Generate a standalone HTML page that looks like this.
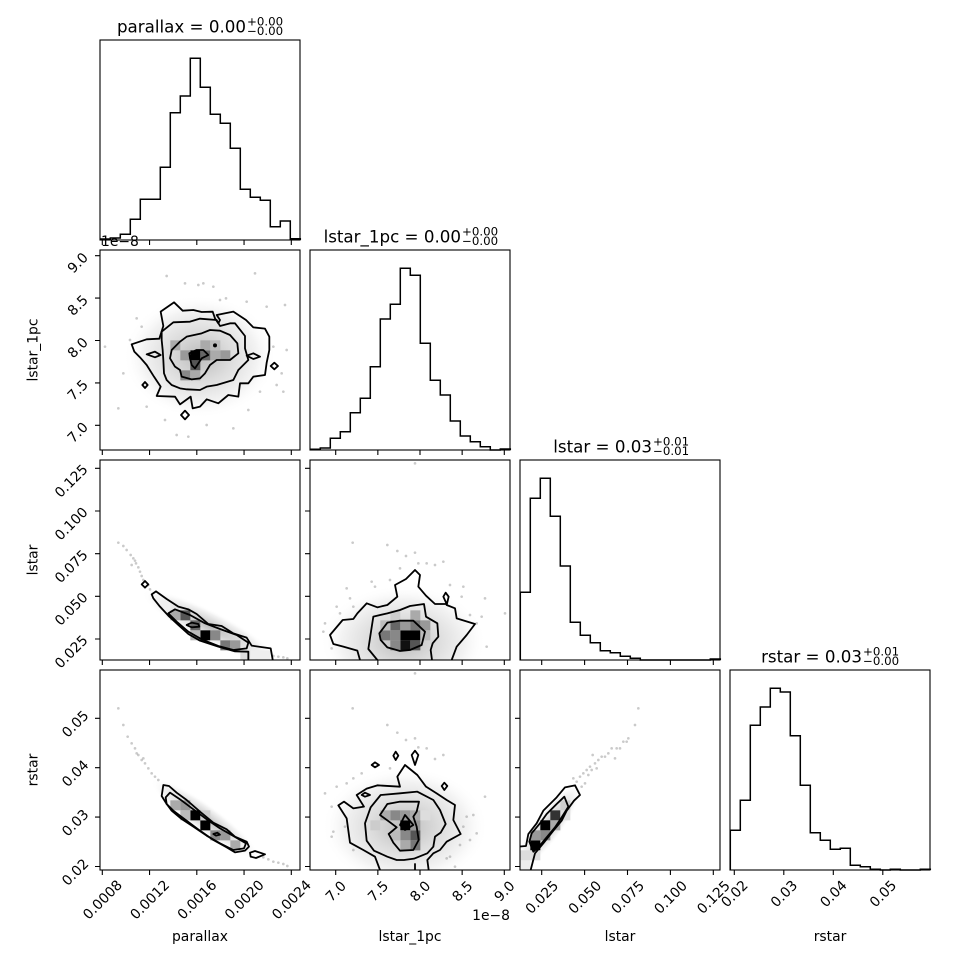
<!DOCTYPE html>
<html><head><meta charset="utf-8"><style>
html,body{margin:0;padding:0;background:#fff;}
svg{display:block;}
text{font-family:"DejaVu Sans","Liberation Sans",sans-serif;fill:#000;}
.ct{fill:none;stroke:#000;stroke-width:1.8;stroke-linejoin:round;}
.dt{fill:#8a8a8a;fill-opacity:0.45;}
</style></head><body>
<svg width="970" height="970" viewBox="0 0 970 970" xmlns="http://www.w3.org/2000/svg">
<defs>
<radialGradient id="rg"><stop offset="0" stop-color="#bcbcbc"/><stop offset="0.4" stop-color="#dcdcdc"/><stop offset="0.75" stop-color="#f3f3f3"/><stop offset="1" stop-color="#ffffff" stop-opacity="0"/></radialGradient>
<clipPath id="c10"><rect x="100" y="250" width="200" height="200"/></clipPath>
<clipPath id="c20"><rect x="100" y="460" width="200" height="200"/></clipPath>
<clipPath id="c21"><rect x="310" y="460" width="200" height="200"/></clipPath>
<clipPath id="c30"><rect x="100" y="670" width="200" height="200"/></clipPath>
<clipPath id="c31"><rect x="310" y="670" width="200" height="200"/></clipPath>
<clipPath id="c32"><rect x="520" y="670" width="200" height="200"/></clipPath>
</defs>
<rect width="970" height="970" fill="#fff"/>

<!-- Panel (1,0) parallax vs lstar_1pc -->
<g clip-path="url(#c10)"><g transform="translate(0,240) scale(0.333333)">
<ellipse cx="600" cy="350" rx="230" ry="185" fill="url(#rg)"/>
<rect x="571" y="331" width="30" height="30" fill="#000"/>
<rect x="571" y="361" width="30" height="30" fill="#555"/>
<rect x="601" y="331" width="30" height="30" fill="#666"/>
<rect x="541" y="391" width="30" height="30" fill="#888"/>
<rect x="541" y="331" width="30" height="30" fill="#999"/>
<rect x="631" y="331" width="30" height="30" fill="#aaa"/>
<rect x="661" y="331" width="30" height="30" fill="#999"/>
<rect x="601" y="301" width="30" height="30" fill="#aaa"/>
<rect x="511" y="301" width="30" height="30" fill="#aaa"/>
<rect x="571" y="391" width="30" height="30" fill="#aaa"/>
<rect x="631" y="301" width="30" height="30" fill="#bbb"/>
<g class="dt"><circle cx="500" cy="108" r="4"/><circle cx="555" cy="130" r="4"/><circle cx="595" cy="135" r="4"/><circle cx="640" cy="140" r="4"/><circle cx="765" cy="100" r="4"/><circle cx="678" cy="175" r="4"/><circle cx="740" cy="185" r="4"/><circle cx="800" cy="200" r="4"/><circle cx="855" cy="195" r="4"/><circle cx="410" cy="235" r="4"/><circle cx="860" cy="330" r="4"/><circle cx="845" cy="400" r="4"/><circle cx="850" cy="455" r="4"/><circle cx="830" cy="435" r="4"/><circle cx="355" cy="505" r="4"/><circle cx="370" cy="400" r="4"/><circle cx="495" cy="540" r="4"/><circle cx="530" cy="585" r="4"/><circle cx="565" cy="590" r="4"/><circle cx="620" cy="555" r="4"/><circle cx="700" cy="565" r="4"/><circle cx="745" cy="510" r="4"/><circle cx="425" cy="260" r="4"/><circle cx="440" cy="500" r="4"/><circle cx="780" cy="455" r="4"/><circle cx="820" cy="320" r="4"/><circle cx="315" cy="320" r="4"/><circle cx="610" cy="130" r="4"/><circle cx="660" cy="180" r="4"/><circle cx="390" cy="300" r="4"/></g>
<polygon class="ct" vector-effect="non-scaling-stroke" points="395,313 440,298 478,296 490,258 482,215 522,187 548,212 580,210 605,216 638,215 645,235 655,250 660,240 650,225 700,215 738,240 760,262 795,266 808,290 808,330 800,368 795,405 760,410 745,430 720,430 715,470 685,465 655,490 620,478 600,500 578,505 572,470 540,493 525,470 470,468 482,440 462,410 440,375 420,352 403,335"/>
<polygon class="ct" vector-effect="non-scaling-stroke" points="485,275 520,247 570,245 600,236 650,240 660,258 690,250 705,250 735,288 735,325 745,360 715,390 700,420 650,435 620,440 600,450 560,448 540,445 515,435 500,420 492,400 490,360 488,330 485,300"/>
<polygon class="ct" vector-effect="non-scaling-stroke" points="510,355 515,330 540,305 560,290 605,280 630,270 660,272 690,285 712,310 715,340 690,360 650,360 630,375 615,400 600,415 575,418 545,410 540,390 525,380"/>
<polygon class="ct" vector-effect="non-scaling-stroke" points="568,340 590,330 610,330 625,345 605,355 585,385 575,375 570,355"/>
<polygon class="ct" vector-effect="non-scaling-stroke" points="427,435 435,426 443,435 435,444"/>
<polygon class="ct" vector-effect="non-scaling-stroke" points="543,525 555,512 567,525 555,538"/>
<polygon class="ct" vector-effect="non-scaling-stroke" points="812,378 823,368 834,378 823,388"/>
<polygon class="ct" vector-effect="non-scaling-stroke" points="740,347 760,340 780,350 760,357"/>
<polygon class="ct" vector-effect="non-scaling-stroke" points="440,343 465,335 482,345 465,352"/>
<circle cx="645" cy="316" r="6" fill="#000"/>
</g></g>

<!-- Panel (2,0) parallax vs lstar -->
<g clip-path="url(#c20)"><g transform="translate(0,450) scale(0.333333)">
<ellipse cx="630" cy="530" rx="230" ry="48" transform="rotate(27 630 530)" fill="url(#rg)"/>
<rect x="601" y="541" width="30" height="30" fill="#000"/>
<rect x="571" y="511" width="30" height="30" fill="#666"/>
<rect x="541" y="481" width="30" height="30" fill="#555"/>
<rect x="511" y="481" width="30" height="30" fill="#aaa"/>
<rect x="631" y="541" width="30" height="30" fill="#888"/>
<rect x="661" y="571" width="30" height="30" fill="#777"/>
<rect x="691" y="571" width="30" height="30" fill="#999"/>
<rect x="481" y="451" width="30" height="30" fill="#eee"/>
<rect x="721" y="601" width="30" height="30" fill="#ddd"/>
<rect x="751" y="601" width="60" height="30" fill="#eee"/>
<rect x="571" y="541" width="30" height="30" fill="#bbb"/>
<g class="dt"><circle cx="355" cy="278" r="4"/><circle cx="370" cy="288" r="4"/><circle cx="380" cy="300" r="4"/><circle cx="392" cy="315" r="4"/><circle cx="400" cy="325" r="4"/><circle cx="408" cy="340" r="4"/><circle cx="415" cy="352" r="4"/><circle cx="420" cy="365" r="4"/><circle cx="425" cy="378" r="4"/><circle cx="430" cy="390" r="4"/><circle cx="445" cy="405" r="4"/><circle cx="450" cy="418" r="4"/><circle cx="820" cy="618" r="4"/><circle cx="835" cy="620" r="4"/><circle cx="850" cy="622" r="4"/><circle cx="862" cy="625" r="4"/><circle cx="405" cy="332" r="4"/><circle cx="395" cy="345" r="4"/></g>
<polyline class="ct" vector-effect="non-scaling-stroke" points="745,640 745,605 705,604 655,590 600,572 565,552 535,525 505,497 480,470 460,445 455,433 468,424 500,447 535,470 565,478 590,492 625,522 665,528 700,550 740,563 755,587 812,595 820,640"/>
<polygon class="ct" vector-effect="non-scaling-stroke" points="505,490 525,478 570,495 615,520 660,537 710,555 745,578 740,595 700,600 655,588 605,568 565,545 530,515"/>
<polygon class="ct" vector-effect="non-scaling-stroke" points="560,525 575,518 595,522 598,530 575,532"/>
<polygon class="ct" vector-effect="non-scaling-stroke" points="425,403 435,393 445,403 435,413"/>
</g></g>

<!-- Panel (3,0) parallax vs rstar -->
<g clip-path="url(#c30)"><g transform="translate(0,660) scale(0.333333)">
<ellipse cx="615" cy="475" rx="200" ry="42" transform="rotate(36 615 475)" fill="url(#rg)"/>
<rect x="571" y="451" width="30" height="30" fill="#000"/>
<rect x="601" y="481" width="30" height="30" fill="#000"/>
<rect x="511" y="421" width="30" height="30" fill="#aaa"/>
<rect x="541" y="421" width="30" height="30" fill="#999"/>
<rect x="541" y="451" width="30" height="30" fill="#bbb"/>
<rect x="631" y="511" width="30" height="30" fill="#888"/>
<rect x="661" y="511" width="30" height="30" fill="#999"/>
<rect x="691" y="541" width="30" height="30" fill="#aaa"/>
<rect x="601" y="451" width="30" height="30" fill="#ccc"/>
<g class="dt"><circle cx="355" cy="145" r="4"/><circle cx="370" cy="195" r="4"/><circle cx="383" cy="230" r="4"/><circle cx="395" cy="250" r="4"/><circle cx="405" cy="265" r="4"/><circle cx="415" cy="285" r="4"/><circle cx="425" cy="300" r="4"/><circle cx="435" cy="310" r="4"/><circle cx="445" cy="325" r="4"/><circle cx="455" cy="340" r="4"/><circle cx="465" cy="350" r="4"/><circle cx="475" cy="360" r="4"/><circle cx="790" cy="592" r="4"/><circle cx="805" cy="598" r="4"/><circle cx="820" cy="605" r="4"/><circle cx="835" cy="608" r="4"/><circle cx="850" cy="612" r="4"/><circle cx="862" cy="618" r="4"/><circle cx="410" cy="280" r="4"/><circle cx="430" cy="295" r="4"/></g>
<polygon class="ct" vector-effect="non-scaling-stroke" points="485,408 490,375 507,378 530,398 560,420 600,455 640,488 680,508 705,530 740,545 747,560 735,572 705,577 680,562 640,540 600,512 560,482 520,452 500,432"/>
<polygon class="ct" vector-effect="non-scaling-stroke" points="497,412 510,398 540,418 580,448 620,478 660,505 700,528 738,550 732,565 700,570 660,550 620,527 580,500 545,477 515,452 500,432"/>
<polygon class="ct" vector-effect="non-scaling-stroke" points="750,578 765,573 795,583 768,594 752,590"/>
<polygon class="ct" vector-effect="non-scaling-stroke" points="640,522 652,518 660,524 648,527"/>
</g></g>

<!-- Panel (2,1) lstar_1pc vs lstar -->
<g clip-path="url(#c21)"><g transform="translate(300,450) scale(0.333333)">
<ellipse cx="310" cy="575" rx="250" ry="170" fill="url(#rg)"/>
<rect x="301" y="541" width="60" height="30" fill="#000"/>
<rect x="301" y="571" width="30" height="30" fill="#111"/>
<rect x="331" y="571" width="30" height="30" fill="#555"/>
<rect x="271" y="511" width="30" height="30" fill="#666"/>
<rect x="241" y="541" width="30" height="30" fill="#777"/>
<rect x="271" y="541" width="30" height="30" fill="#888"/>
<rect x="271" y="571" width="30" height="30" fill="#888"/>
<rect x="331" y="481" width="30" height="30" fill="#aaa"/>
<rect x="361" y="511" width="30" height="30" fill="#999"/>
<rect x="241" y="511" width="30" height="30" fill="#bbb"/>
<rect x="361" y="541" width="30" height="30" fill="#bbb"/>
<rect x="271" y="481" width="30" height="30" fill="#ccc"/>
<rect x="301" y="511" width="30" height="30" fill="#999"/>
<rect x="331" y="511" width="30" height="30" fill="#777"/>
<g class="dt"><circle cx="158" cy="278" r="4"/><circle cx="262" cy="285" r="4"/><circle cx="292" cy="303" r="4"/><circle cx="318" cy="318" r="4"/><circle cx="345" cy="308" r="4"/><circle cx="355" cy="340" r="4"/><circle cx="380" cy="340" r="4"/><circle cx="430" cy="335" r="4"/><circle cx="405" cy="345" r="4"/><circle cx="300" cy="355" r="4"/><circle cx="270" cy="390" r="4"/><circle cx="215" cy="395" r="4"/><circle cx="225" cy="410" r="4"/><circle cx="150" cy="445" r="4"/><circle cx="140" cy="415" r="4"/><circle cx="160" cy="470" r="4"/><circle cx="110" cy="470" r="4"/><circle cx="120" cy="490" r="4"/><circle cx="75" cy="520" r="4"/><circle cx="70" cy="545" r="4"/><circle cx="95" cy="595" r="4"/><circle cx="555" cy="445" r="4"/><circle cx="545" cy="500" r="4"/><circle cx="510" cy="495" r="4"/><circle cx="490" cy="410" r="4"/><circle cx="450" cy="405" r="4"/><circle cx="485" cy="440" r="4"/><circle cx="530" cy="520" r="4"/><circle cx="560" cy="590" r="4"/><circle cx="615" cy="490" r="4"/><circle cx="345" cy="40" r="4"/></g>
<polyline class="ct" vector-effect="non-scaling-stroke" points="180,640 180,630 172,602 130,590 100,582 90,555 128,510 160,507 172,490 200,460 232,472 262,465 292,440 285,405 318,387 345,360 360,375 355,410 378,437 405,462 440,462 430,440 437,428 446,440 440,465 465,475 470,505 525,522 500,555 470,590 455,630 455,640"/>
<polyline class="ct" vector-effect="non-scaling-stroke" points="232,640 232,630 205,597 213,545 220,500 262,490 300,480 330,468 372,462 378,500 412,520 415,560 398,580 392,600 396,630 396,640"/>
<polygon class="ct" vector-effect="non-scaling-stroke" points="238,550 262,518 300,512 340,512 375,545 365,585 330,600 300,603 262,592 242,570"/>
</g></g>

<!-- Panel (3,1) lstar_1pc vs rstar -->
<g clip-path="url(#c31)"><g transform="translate(300,660) scale(0.333333)">
<ellipse cx="315" cy="500" rx="250" ry="180" fill="url(#rg)"/>
<rect x="301" y="481" width="30" height="30" fill="#000"/>
<rect x="331" y="511" width="30" height="30" fill="#555"/>
<rect x="331" y="541" width="30" height="30" fill="#777"/>
<rect x="301" y="511" width="30" height="30" fill="#888"/>
<rect x="271" y="451" width="30" height="30" fill="#888"/>
<rect x="241" y="451" width="30" height="30" fill="#aaa"/>
<rect x="301" y="451" width="30" height="30" fill="#999"/>
<rect x="331" y="451" width="30" height="30" fill="#aaa"/>
<rect x="211" y="481" width="30" height="30" fill="#ccc"/>
<rect x="361" y="451" width="30" height="30" fill="#ddd"/>
<rect x="271" y="511" width="30" height="30" fill="#bbb"/>
<rect x="301" y="541" width="30" height="30" fill="#aaa"/>
<rect x="331" y="481" width="30" height="30" fill="#999"/>
<g class="dt"><circle cx="158" cy="145" r="4"/><circle cx="262" cy="195" r="4"/><circle cx="292" cy="218" r="4"/><circle cx="318" cy="240" r="4"/><circle cx="345" cy="235" r="4"/><circle cx="355" cy="262" r="4"/><circle cx="380" cy="265" r="4"/><circle cx="430" cy="285" r="4"/><circle cx="405" cy="297" r="4"/><circle cx="270" cy="325" r="4"/><circle cx="185" cy="340" r="4"/><circle cx="160" cy="355" r="4"/><circle cx="140" cy="370" r="4"/><circle cx="110" cy="380" r="4"/><circle cx="75" cy="400" r="4"/><circle cx="95" cy="440" r="4"/><circle cx="100" cy="515" r="4"/><circle cx="95" cy="530" r="4"/><circle cx="135" cy="500" r="4"/><circle cx="160" cy="570" r="4"/><circle cx="555" cy="410" r="4"/><circle cx="520" cy="465" r="4"/><circle cx="500" cy="470" r="4"/><circle cx="490" cy="500" r="4"/><circle cx="480" cy="555" r="4"/><circle cx="450" cy="590" r="4"/><circle cx="465" cy="620" r="4"/><circle cx="510" cy="540" r="4"/><circle cx="530" cy="520" r="4"/><circle cx="440" cy="595" r="4"/><circle cx="345" cy="40" r="4"/></g>
<polyline class="ct" vector-effect="non-scaling-stroke" points="240,640 240,630 225,590 190,570 150,548 140,475 115,436 132,425 160,445 192,440 170,405 200,386 232,376 300,380 292,350 315,315 352,345 378,380 410,400 440,420 465,435 460,480 482,522 440,545 420,570 400,580 382,600 386,630 386,640"/>
<polyline class="ct" vector-effect="non-scaling-stroke" points="345,610 345,640"/>
<polygon class="ct" vector-effect="non-scaling-stroke" points="290,600 262,590 222,572 200,542 195,490 212,442 242,405 300,400 352,395 400,420 420,450 437,492 422,518 405,530 400,560 382,580 342,596 312,600"/>
<polygon class="ct" vector-effect="non-scaling-stroke" points="240,465 262,432 300,425 357,425 350,455 340,470 350,500 356,540 340,570 300,572 280,548 266,522 290,502 270,487"/>
<polygon class="ct" vector-effect="non-scaling-stroke" points="300,495 315,465 340,495 315,510"/>
<polygon class="ct" vector-effect="non-scaling-stroke" points="215,315 225,307 237,315 225,322"/>
<polygon class="ct" vector-effect="non-scaling-stroke" points="280,287 287,275 295,287 287,300"/>
<polygon class="ct" vector-effect="non-scaling-stroke" points="335,285 345,272 355,285 345,315"/>
<polygon class="ct" vector-effect="non-scaling-stroke" points="425,378 433,368 442,378 433,390"/>
<polygon class="ct" vector-effect="non-scaling-stroke" points="185,405 195,398 210,405 195,410"/>
</g></g>

<!-- Panel (3,2) lstar vs rstar -->
<g clip-path="url(#c32)"><g transform="translate(510,660) scale(0.333333)">
<ellipse cx="115" cy="500" rx="160" ry="42" transform="rotate(-54 115 500)" fill="url(#rg)"/>
<rect x="61" y="541" width="30" height="30" fill="#000"/>
<rect x="91" y="481" width="30" height="30" fill="#000"/>
<rect x="121" y="451" width="30" height="30" fill="#333"/>
<rect x="61" y="511" width="30" height="30" fill="#999"/>
<rect x="91" y="511" width="30" height="30" fill="#888"/>
<rect x="121" y="481" width="30" height="30" fill="#aaa"/>
<rect x="151" y="421" width="30" height="30" fill="#ccc"/>
<rect x="31" y="571" width="30" height="30" fill="#ddd"/>
<rect x="31" y="601" width="30" height="30" fill="#eee"/>
<rect x="151" y="451" width="30" height="30" fill="#ddd"/>
<rect x="61" y="571" width="30" height="30" fill="#ddd"/>
<g class="dt"><circle cx="385" cy="145" r="4"/><circle cx="375" cy="195" r="4"/><circle cx="355" cy="235" r="4"/><circle cx="340" cy="245" r="4"/><circle cx="320" cy="265" r="4"/><circle cx="305" cy="265" r="4"/><circle cx="295" cy="280" r="4"/><circle cx="285" cy="290" r="4"/><circle cx="265" cy="300" r="4"/><circle cx="255" cy="310" r="4"/><circle cx="240" cy="320" r="4"/><circle cx="230" cy="330" r="4"/><circle cx="220" cy="340" r="4"/><circle cx="210" cy="350" r="4"/><circle cx="200" cy="365" r="4"/><circle cx="225" cy="370" r="4"/><circle cx="245" cy="330" r="4"/><circle cx="260" cy="325" r="4"/><circle cx="275" cy="290" r="4"/><circle cx="315" cy="295" r="4"/><circle cx="330" cy="265" r="4"/><circle cx="350" cy="245" r="4"/><circle cx="215" cy="380" r="4"/><circle cx="190" cy="355" r="4"/><circle cx="248" cy="285" r="4"/><circle cx="235" cy="345" r="4"/></g>
<polyline class="ct" vector-effect="non-scaling-stroke" points="25,560 48,558 55,522 80,490 100,452 140,412 165,382 195,376 210,405 192,422 170,452 155,482 130,512 100,550 75,580 62,630 62,640"/>
<polygon class="ct" vector-effect="non-scaling-stroke" points="58,545 65,520 90,490 110,462 140,432 163,410 175,440 155,472 135,502 110,532 85,562 70,575"/>
</g></g>

<!-- Histograms -->
<g fill="none" stroke="#000" stroke-width="1.5">
<path d="M100.3,240 V239 H110.3 V238 H120.3 V234.3 H130.3 V219.3 H140.3 V199.3 H160.3 V167.3 H170.3 V112.7 H180.3 V96 H190.3 V58.3 H200.3 V87.3 H210.3 V114.3 H220.3 V123.3 H230.3 V148.3 H240.3 V189.3 H250.3 V197.3 H260.3 V200.3 H270.3 V226.7 H280.3 V221 H290.3 V238.7 H300.3 V240"/>
<path d="M310.3,450 V449.3 H320.3 V448 H330.3 V438.3 H340.3 V431.7 H350.3 V412.7 H360.3 V398.3 H370.3 V366.7 H380.3 V319 H390.3 V304.3 H400.3 V268.3 H410.3 V275.3 H420.3 V343.3 H430.3 V380.3 H440.3 V395 H450.3 V421 H460.3 V436 H470.3 V441.7 H480.3 V446.7 H490.3 V450 H500.3 V449 H510.3 V450"/>
<path d="M520.3,660 V592.3 H530.3 V498.3 H540.3 V478.3 H550.3 V516.3 H560.3 V566 H570.3 V622.3 H580.3 V635.3 H590.3 V642.7 H600.3 V650.7 H610.3 V652.7 H620.3 V656.3 H630.3 V658.3 H640.3 V660 H710.3 V659 H720.3 V660"/>
<path d="M730.3,870 V830.3 H740.3 V800.3 H750.3 V725.3 H760.3 V707 H770.3 V688.3 H780.3 V692 H790.3 V735.7 H800.3 V785.3 H810.3 V832.7 H820.3 V840.3 H830.3 V849.3 H840.3 V848.3 H850.3 V865.3 H860.3 V866.7 H870.3 V869.3 H880.3 V870 H890.3 V869.3 H900.3 V870 H920.3 V869.3 H930.3 V870"/>
</g>

<!-- Frames -->
<g fill="none" stroke="#000" stroke-width="1.1">
<rect x="100" y="40" width="200" height="200"/>
<rect x="100" y="250" width="200" height="200"/><rect x="310" y="250" width="200" height="200"/>
<rect x="100" y="460" width="200" height="200"/><rect x="310" y="460" width="200" height="200"/><rect x="520" y="460" width="200" height="200"/>
<rect x="100" y="670" width="200" height="200"/><rect x="310" y="670" width="200" height="200"/><rect x="520" y="670" width="200" height="200"/><rect x="730" y="670" width="200" height="200"/>
</g>

<!-- Ticks -->
<g stroke="#000" stroke-width="1.1" fill="none">
<path d="M102.3,240v5M149.55,240v5M196.8,240v5M244.05,240v5M291.3,240v5"/>
<path d="M102.3,450v5M149.55,450v5M196.8,450v5M244.05,450v5M291.3,450v5M335.7,450v5M377.85,450v5M420,450v5M462.15,450v5M504.3,450v5"/>
<path d="M102.3,660v5M149.55,660v5M196.8,660v5M244.05,660v5M291.3,660v5M335.7,660v5M377.85,660v5M420,660v5M462.15,660v5M504.3,660v5M541.7,660v5M584.6,660v5M627.5,660v5M670.4,660v5M713.3,660v5"/>
<path d="M102.3,870v5M149.55,870v5M196.8,870v5M244.05,870v5M291.3,870v5M335.7,870v5M377.85,870v5M420,870v5M462.15,870v5M504.3,870v5M541.7,870v5M584.6,870v5M627.5,870v5M670.4,870v5M713.3,870v5M734.3,870v5M783.8,870v5M833.3,870v5M882.8,870v5"/>
<path d="M95,255.7h5M95,298.1h5M95,340.5h5M95,382.9h5M95,425.3h5"/>
<path d="M95,468.3h5M95,511h5M95,553.7h5M95,596.3h5M95,639h5M305,468.3h5M305,511h5M305,553.7h5M305,596.3h5M305,639h5"/>
<path d="M95,718.3h5M95,767.7h5M95,817.1h5M95,866.5h5M305,718.3h5M305,767.7h5M305,817.1h5M305,866.5h5M515,718.3h5M515,767.7h5M515,817.1h5M515,866.5h5"/>
</g>

<!-- Tick labels -->
<g font-size="13.9" text-anchor="middle">
<text transform="translate(102.3,899.5) rotate(-45)" dy="0.36em">0.0008</text>
<text transform="translate(149.55,899.5) rotate(-45)" dy="0.36em">0.0012</text>
<text transform="translate(196.8,899.5) rotate(-45)" dy="0.36em">0.0016</text>
<text transform="translate(244.05,899.5) rotate(-45)" dy="0.36em">0.0020</text>
<text transform="translate(291.3,899.5) rotate(-45)" dy="0.36em">0.0024</text>
<text transform="translate(335.7,891) rotate(-45)" dy="0.36em">7.0</text>
<text transform="translate(377.85,891) rotate(-45)" dy="0.36em">7.5</text>
<text transform="translate(420,891) rotate(-45)" dy="0.36em">8.0</text>
<text transform="translate(462.15,891) rotate(-45)" dy="0.36em">8.5</text>
<text transform="translate(504.3,891) rotate(-45)" dy="0.36em">9.0</text>
<text transform="translate(541.7,897) rotate(-45)" dy="0.36em">0.025</text>
<text transform="translate(584.6,897) rotate(-45)" dy="0.36em">0.050</text>
<text transform="translate(627.5,897) rotate(-45)" dy="0.36em">0.075</text>
<text transform="translate(670.4,897) rotate(-45)" dy="0.36em">0.100</text>
<text transform="translate(713.3,897) rotate(-45)" dy="0.36em">0.125</text>
<text transform="translate(734.3,893.5) rotate(-45)" dy="0.36em">0.02</text>
<text transform="translate(783.8,893.5) rotate(-45)" dy="0.36em">0.03</text>
<text transform="translate(833.3,893.5) rotate(-45)" dy="0.36em">0.04</text>
<text transform="translate(882.8,893.5) rotate(-45)" dy="0.36em">0.05</text>

<text transform="translate(77.5,262.7) rotate(-45)" dy="0.36em">9.0</text>
<text transform="translate(77.5,305.1) rotate(-45)" dy="0.36em">8.5</text>
<text transform="translate(77.5,347.5) rotate(-45)" dy="0.36em">8.0</text>
<text transform="translate(77.5,389.9) rotate(-45)" dy="0.36em">7.5</text>
<text transform="translate(77.5,432.3) rotate(-45)" dy="0.36em">7.0</text>

<text transform="translate(71,480.8) rotate(-45)" dy="0.36em">0.125</text>
<text transform="translate(71,523.5) rotate(-45)" dy="0.36em">0.100</text>
<text transform="translate(71,566.2) rotate(-45)" dy="0.36em">0.075</text>
<text transform="translate(71,608.8) rotate(-45)" dy="0.36em">0.050</text>
<text transform="translate(71,651.5) rotate(-45)" dy="0.36em">0.025</text>

<text transform="translate(75,723.8) rotate(-45)" dy="0.36em">0.05</text>
<text transform="translate(75,773.2) rotate(-45)" dy="0.36em">0.04</text>
<text transform="translate(75,822.6) rotate(-45)" dy="0.36em">0.03</text>
<text transform="translate(75,872) rotate(-45)" dy="0.36em">0.02</text>
</g>

<!-- offset texts -->
<text x="101" y="246" font-size="13.9">1e−8</text>
<text x="510" y="920" font-size="13.9" text-anchor="end">1e−8</text>

<!-- axis labels -->
<g font-size="13.9" text-anchor="middle">
<text x="200" y="941">parallax</text>
<text x="410" y="941">lstar_1pc</text>
<text x="620" y="941">lstar</text>
<text x="830" y="941">rstar</text>
<text transform="translate(37.5,350) rotate(-90)">lstar_1pc</text>
<text transform="translate(37.5,560) rotate(-90)">lstar</text>
<text transform="translate(37.5,770) rotate(-90)">rstar</text>
</g>

<!-- Titles -->
<g>
<text x="246" y="32.5" font-size="16.7" text-anchor="end">parallax = 0.00</text>
<text x="247" y="25.5" font-size="11.8">+0.00</text>
<text x="247" y="35" font-size="11.8">−0.00</text>

<text x="461" y="242.5" font-size="16.7" text-anchor="end">lstar_1pc = 0.00</text>
<text x="462" y="235.5" font-size="11.8">+0.00</text>
<text x="462" y="245" font-size="11.8">−0.00</text>

<text x="652" y="452.5" font-size="16.7" text-anchor="end">lstar = 0.03</text>
<text x="653" y="445.5" font-size="11.8">+0.01</text>
<text x="653" y="455" font-size="11.8">−0.01</text>

<text x="862" y="662.5" font-size="16.7" text-anchor="end">rstar = 0.03</text>
<text x="863" y="655.5" font-size="11.8">+0.01</text>
<text x="863" y="665" font-size="11.8">−0.00</text>
</g>
</svg>
</body></html>
